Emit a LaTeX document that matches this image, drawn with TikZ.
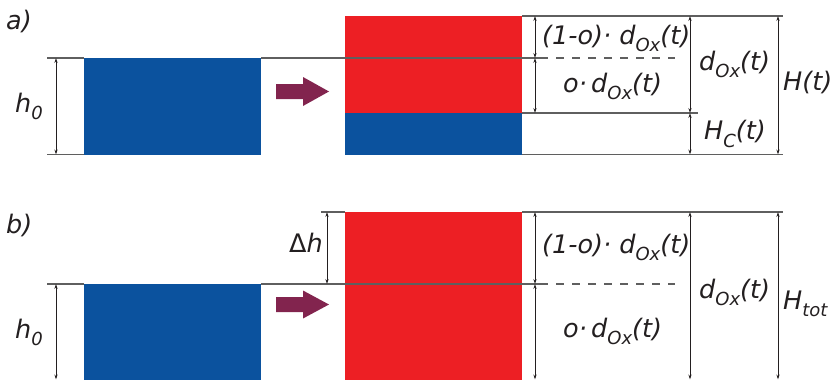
\documentclass[tikz,border=0pt]{standalone}
\usepackage{fontspec}
\setmainfont{DejaVu Sans}
\usetikzlibrary{arrows.meta}
\definecolor{cred}{RGB}{237,31,36}
\definecolor{cblue}{RGB}{11,82,158}
\definecolor{carrow}{RGB}{130,36,78}
\definecolor{cline}{RGB}{95,95,95}
\definecolor{ctext}{RGB}{35,31,32}
\newcommand{\mysub}[1]{\raisebox{-7.5pt}{\fontsize{18}{20}\selectfont #1}}
\newcommand{\myox}{\mysub{Ox}}
\begin{document}
\begin{tikzpicture}[x=1pt,y=-1pt,
  refline/.style={draw=cline, line width=1.2pt},
  dashline/.style={draw=cline, line width=1.2pt, dash pattern=on 8pt off 8pt, dash phase=8pt},
  dim/.style={draw=ctext, line width=0.8pt, {Stealth[length=5pt,width=3.2pt]}-{Stealth[length=5pt,width=3.2pt]}},
  lbl/.style={font=\fontsize{25.5}{30}\selectfont\itshape, inner sep=0pt, text=ctext, anchor=base west},
  bigarrow/.style={fill=carrow, draw=none}]
\useasboundingbox (0,0) rectangle (835,380);

% ---------------- panel a ----------------
\node[lbl] (la) at (6,29) {a)};
\fill[cblue] (84,58) rectangle (261,155);
\fill[cred] (345,16) rectangle (522,113);
\fill[cblue] (345,113) rectangle (522,155);
\fill[bigarrow] (276,84) -- (303,84) -- (303,77) -- (329,91.5) -- (303,106) -- (303,99) -- (276,99) -- cycle;

\draw[refline] (47,58) -- (84,58);
\draw[refline] (47,154.5) -- (84,154.5);
\draw[refline] (261,58) -- (548,58);
\draw[dashline] (548,58) -- (675,58);
\draw[refline] (522,16) -- (783,16);
\draw[refline] (522,113) -- (698,113);
\draw[refline] (522,154.5) -- (783,154.5);

\coordinate (a0t) at (56,58);  \coordinate (a0b) at (56,154.5);
\coordinate (a1t) at (535,16); \coordinate (a1m) at (535,58); \coordinate (a1b) at (535,113);
\coordinate (a2t) at (690,16); \coordinate (a2m) at (690,113); \coordinate (a2b) at (690,154.5);
\coordinate (a3t) at (778,16); \coordinate (a3b) at (778,154.5);
\draw[dim] (a0t) -- (a0b);
\draw[dim] (a1t) -- (a1m);
\draw[dim] (a1m) -- (a1b);
\draw[dim] (a2t) -- (a2m);
\draw[dim] (a2m) -- (a2b);
\draw[dim] (a3t) -- (a3b);

\node[lbl] (ah0) at (15,112) {h\mysub{0}};
\node[lbl] (a1o) at (542,44) {(1-o)·\ d\myox(t)};
\node[lbl] (ao) at (563,92) {o·\,d\myox(t)};
\node[lbl] (ad) at (699,70) {d\myox(t)};
\node[lbl] (ahc) at (704,139.5) {H\mysub{C}(t)};
\node[lbl] (aH) at (783,90) {H(t)};

% ---------------- panel b ----------------
\node[lbl] (lb) at (6,233) {b)};
\fill[cblue] (84,284) rectangle (261,380);
\fill[cred] (345,212) rectangle (522,380);
\fill[bigarrow] (276,297) -- (303,297) -- (303,290.5) -- (329,304.5) -- (303,318.5) -- (303,312) -- (276,312) -- cycle;

\draw[refline] (47,284) -- (84,284);
\draw[refline] (321,212) -- (345,212);
\draw[refline] (261,284) -- (548,284);
\draw[dashline] (548,284) -- (675,284);
\draw[refline] (522,212) -- (783,212);

\coordinate (b0t) at (56,284);  \coordinate (b0b) at (56,379.5);
\coordinate (bdt) at (327,212); \coordinate (bdb) at (327,284);
\coordinate (b1t) at (535,212); \coordinate (b1m) at (535,284); \coordinate (b1b) at (535,379.5);
\coordinate (b2t) at (690,212); \coordinate (b2b) at (690,379.5);
\coordinate (b3t) at (778,212); \coordinate (b3b) at (778,379.5);
\draw[dim] (b0t) -- (b0b);
\draw[dim] (bdt) -- (bdb);
\draw[dim] (b1t) -- (b1m);
\draw[dim] (b1m) -- (b1b);
\draw[dim] (b2t) -- (b2b);
\draw[dim] (b3t) -- (b3b);

\node[lbl] (bh0) at (15,338) {h\mysub{0}};
\node[lbl] (bdh) at (289,252) {{\upshape Δ}h};
\node[lbl] (b1o) at (542,253) {(1-o)·\ d\myox(t)};
\node[lbl] (bo) at (563,337) {o·\,d\myox(t)};
\node[lbl] (bd) at (699,298) {d\myox(t)};
\node[lbl] (bH) at (783,309) {H\mysub{tot}};
\end{tikzpicture}
\end{document}
